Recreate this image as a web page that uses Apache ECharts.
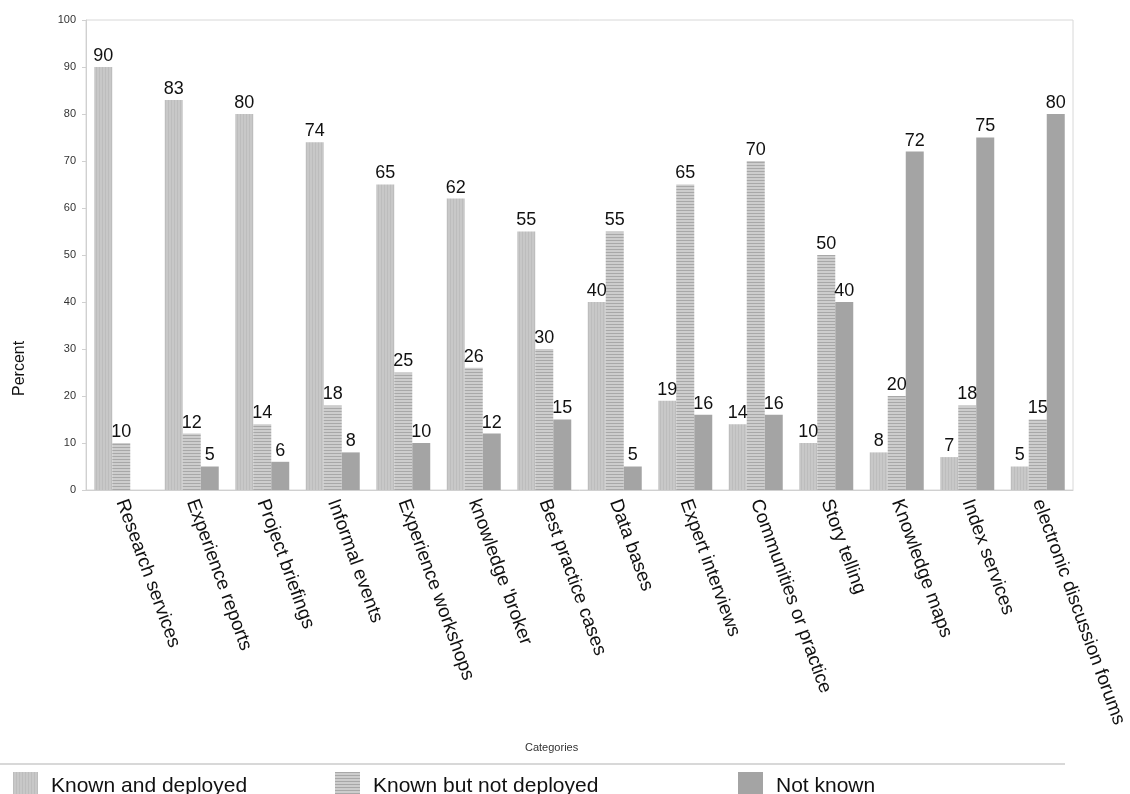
<!DOCTYPE html>
<html>
<head>
<meta charset="utf-8">
<script src="https://cdn.jsdelivr.net/npm/echarts@6/dist/echarts.min.js"></script>
<style>
  html, body { margin: 0; padding: 0; background: #fff; }
  #main { width: 1130px; height: 794px; }
</style>
</head>
<body>
<div id="main"></div>
<script>
var categories = ['Research services', 'Experience reports', 'Project briefings', 'Informal events',
  'Experience workshops', "knowledge 'broker", 'Best practice cases', 'Data bases',
  'Expert interviews', 'Communities or practice', 'Story telling', 'Knowledge maps',
  'Index services', 'electronic discussion forums'];
var seriesNames = ['Known and deployed', 'Known but not deployed', 'Not known'];
var knownDeployed = [90, 83, 80, 74, 65, 62, 55, 40, 19, 14, 10, 8, 7, 5];
var knownNotDeployed = [10, 12, 14, 18, 25, 26, 30, 55, 65, 70, 50, 20, 18, 15];
var notKnown = [null, 5, 6, 8, 10, 12, 15, 5, 16, 16, 40, 72, 75, 80];
var yTicks = [0, 10, 20, 30, 40, 50, 60, 70, 80, 90, 100];

// stripe patterns for the bars
function stripes(base, line, vertical) {
  var c = document.createElement('canvas');
  c.width = 3; c.height = 3;
  var ctx = c.getContext('2d');
  ctx.fillStyle = base;
  ctx.fillRect(0, 0, 3, 3);
  ctx.fillStyle = line;
  if (vertical) ctx.fillRect(0, 0, 1, 3);
  else ctx.fillRect(0, 0, 3, 1);
  return { image: c, repeat: 'repeat' };
}

var colors = [
  stripes('#c8c8c8', '#bdbdbd', true),
  stripes('#cdcdcd', '#a8a8a8', false),
  '#a4a4a4'
];

var font = '"Liberation Sans", Arial, sans-serif';
var chart = echarts.init(document.getElementById('main'));

function makeSeries(i, data) {
  return {
    name: seriesNames[i],
    type: 'bar',
    data: data,
    barWidth: 18,
    barGap: '0%',
    itemStyle: { color: colors[i] },
    label: {
      show: true,
      position: 'top',
      distance: 2,
      fontFamily: font,
      fontSize: 18,
      color: '#111'
    }
  };
}

function makeLegend(i, left) {
  return {
    data: [seriesNames[i]],
    left: left,
    top: 767,
    itemWidth: 25,
    itemHeight: 28,
    itemGap: 0,
    icon: 'rect',
    textStyle: { fontFamily: font, fontSize: 21, color: '#111', padding: [0, 0, 0, 8] }
  };
}

var option = {
  animation: false,
  backgroundColor: '#fff',
  grid: { left: 86, right: 57, top: 20, bottom: 304, show: true, borderColor: '#d8d8d8', borderWidth: 1 },
  legend: [makeLegend(0, 8), makeLegend(1, 330), makeLegend(2, 733)],
  xAxis: {
    type: 'category',
    data: categories,
    axisLine: { lineStyle: { color: '#d0d0d0' } },
    axisTick: { show: false },
    axisLabel: {
      interval: 0,
      rotate: -70,
      margin: 10,
      fontFamily: font,
      fontSize: 19,
      color: '#111'
    }
  },
  yAxis: {
    type: 'value',
    min: yTicks[0],
    max: yTicks[yTicks.length - 1],
    interval: 10,
    splitLine: { show: false },
    axisLine: { show: true, lineStyle: { color: '#d0d0d0' } },
    axisTick: { show: true, length: 4, lineStyle: { color: '#d0d0d0' } },
    axisLabel: { fontFamily: font, fontSize: 11, color: '#333', margin: 10 }
  },
  graphic: [
    {
      type: 'text', left: 525, top: 742,
      style: { text: 'Categories', font: '11px ' + font, fill: '#333' }
    },
    {
      type: 'text', x: 12, y: 396, rotation: Math.PI / 2,
      style: { text: 'Percent', font: '16px ' + font, fill: '#111' }
    },
    {
      type: 'line',
      shape: { x1: 0, y1: 764, x2: 1065, y2: 764 },
      style: { stroke: '#d8d8d8', lineWidth: 2 }
    }
  ],
  series: [
    makeSeries(0, knownDeployed),
    makeSeries(1, knownNotDeployed),
    makeSeries(2, notKnown)
  ]
};

chart.setOption(option);
</script>
</body>
</html>
